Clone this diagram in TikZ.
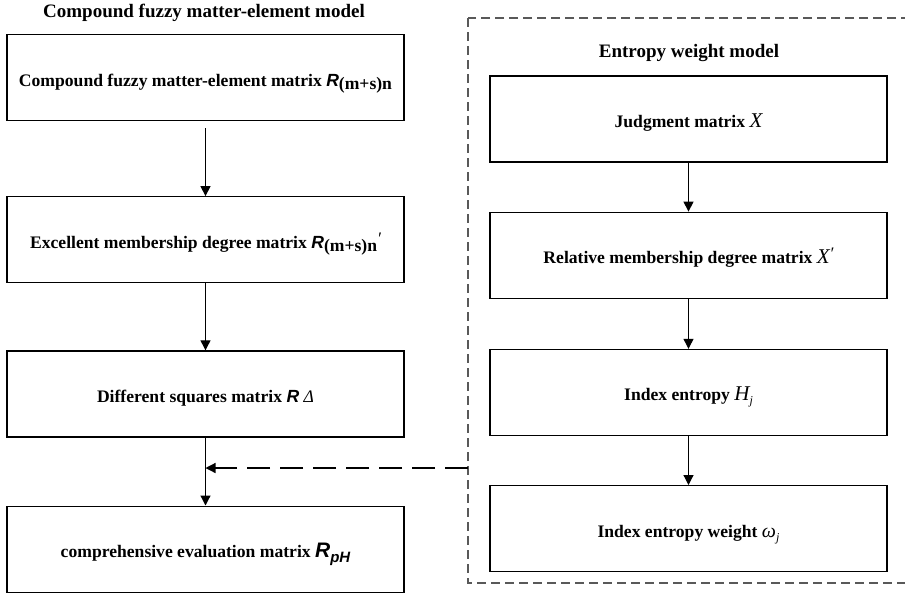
\documentclass[tikz,border=0pt]{standalone}
\usepackage{fontspec}
\setmainfont{Liberation Serif}
\setsansfont{Liberation Sans}
\usetikzlibrary{positioning,arrows.meta}

\newcommand{\matR}{{\sffamily\bfseries\itshape R}}
\newcommand{\lowsub}[1]{\raisebox{-0.4ex}{#1}}
\newcommand{\smallsub}[1]{\raisebox{-0.5ex}{\fontsize{12}{12}\selectfont #1}}
\newcommand{\primemark}{\raisebox{0.5ex}{\mdseries\itshape ′}}

\begin{document}
\begin{tikzpicture}[
        x=1pt, y=-1pt,
        box/.style={rectangle, draw=black, line width=1.2pt, minimum width=397pt, minimum height=86pt, inner sep=0pt, text height=17pt, text depth=0pt, align=center, font=\fontsize{17.6}{20}\selectfont\bfseries},
        title/.style={font=\fontsize{19}{22}\selectfont\bfseries},
        flow/.style={-{Triangle[width=10pt,length=10pt]}, line width=1.2pt},
        feed/.style={-{Triangle[width=10pt,length=10pt]}, line width=1.2pt, dash pattern=on 23pt off 10pt},
        frame/.style={draw=black!65, line width=1.1pt, dash pattern=on 9pt off 5pt}
    ]
    \useasboundingbox (0,0) rectangle (905,592);

    % Compound fuzzy matter-element model
    \node[title] (matter-title) at (204,13) {Compound fuzzy matter-element model};
    \node[box] (matter) at (205.5,77.5) {Compound fuzzy matter-element matrix \matR\lowsub{(m+s)n}};
    \node[box, below=75pt of matter] (excellent) {Excellent membership degree matrix \matR\lowsub{(m+s)n}\primemark};
    \node[box, below=67pt of excellent] (squares) {Different squares matrix \matR\ {\mdseries\itshape Δ}};
    \node[box, below=68pt of squares] (evaluation) {comprehensive evaluation matrix {\fontsize{21}{21}\selectfont\matR}\raisebox{-0.6ex}{\fontsize{15}{15}\selectfont\sffamily\bfseries\itshape pH}};

    % Entropy weight model
    \coordinate (frame-nw) at (468,18);
    \coordinate (frame-se) at (915,583);
    \draw[frame] (frame-nw) rectangle (frame-se);
    \node[title] (entropy-title) at (689,53) {Entropy weight model};
    \node[box] (judgment) at (688.5,119) {Judgment matrix {\fontsize{21}{21}\selectfont\mdseries\itshape X}};
    \node[box, below=49pt of judgment] (relative) {Relative membership degree matrix {\fontsize{21}{21}\selectfont\mdseries\itshape X}\primemark};
    \node[box, below=50pt of relative] (index-entropy) {Index entropy {\fontsize{21}{21}\selectfont\mdseries\itshape H}\smallsub{\mdseries\itshape j}};
    \node[box, below=49pt of index-entropy] (index-weight) {Index entropy weight {\fontsize{20}{20}\selectfont\mdseries\itshape ω}\smallsub{\mdseries\itshape j}};

    % Connections
    \draw[flow, shorten <=7pt] (matter) -- (excellent);
    \draw[flow] (excellent) -- (squares);
    \draw[flow] (squares) -- (evaluation);

    \draw[flow] (judgment) -- (relative);
    \draw[flow] (relative) -- (index-entropy);
    \draw[flow] (index-entropy) -- (index-weight);

    \coordinate (frame-in) at (468,468);
    \coordinate (join) at (squares.south |- frame-in);
    \draw[feed] (frame-in) -- (join);

\end{tikzpicture}
\end{document}
